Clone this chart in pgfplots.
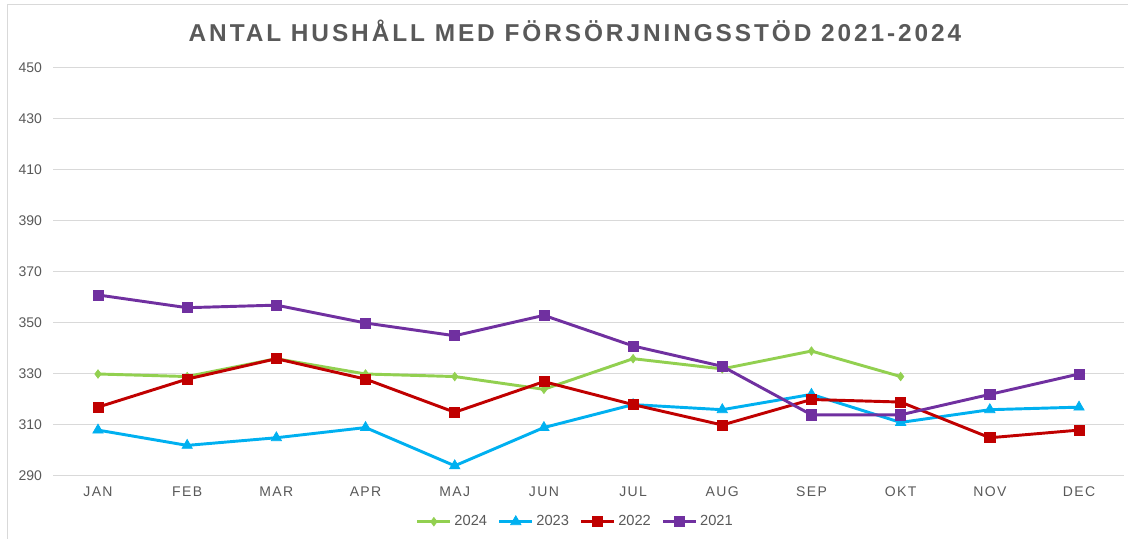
\documentclass[border=0pt]{standalone}
\usepackage{pgfplots}
\pgfplotsset{compat=1.18}
\usepackage{fontspec}
\setmainfont{Liberation Sans}
\newfontfamily\titlefont[LetterSpace=12]{Liberation Sans}
\newfontfamily\spacedfont[LetterSpace=10]{Liberation Sans}
\definecolor{c24}{HTML}{92D050}
\definecolor{c23}{HTML}{00B0F0}
\definecolor{c22}{HTML}{C00000}
\definecolor{c21}{HTML}{7030A0}
\definecolor{txt}{HTML}{595959}
\definecolor{gridc}{HTML}{D9D9D9}
\begin{document}
\begin{tikzpicture}[x=0.75pt,y=0.75pt]
\path[use as bounding box] (0,0) rectangle (1128,539);
\draw[gridc, line width=0.75pt] (7,-5) -- (7,534) -- (1135,534);
\node[anchor=base, text=txt, font=\titlefont\bfseries\fontsize{18.3}{21}\selectfont, inner sep=0pt] at (575,497) {ANTAL HUSHÅLL MED FÖRSÖRJNINGSSTÖD 2021-2024};
\begin{axis}[
  at={(40.05pt,47.25pt)}, anchor=south west,
  scale only axis, width=802.65pt, height=306pt,
  xmin=-0.5, xmax=11.5, ymin=290, ymax=450,
  xtick={0,...,11},
  xticklabels={JAN,FEB,MAR,APR,MAJ,JUN,JUL,AUG,SEP,OKT,NOV,DEC},
  ytick={290,310,...,450},
  ymajorgrids=true,
  grid style={gridc, line width=0.75pt},
  axis line style={draw=none},
  major tick length=0pt,
  /pgf/number format/assume math mode=true,
  yticklabel style={font=\fontsize{10.5}{12}\selectfont, text=txt, anchor=east, xshift=-5pt},
  xticklabel style={font=\spacedfont\fontsize{10.5}{12}\selectfont, text=txt, yshift=-4.3pt},
  legend columns=4,
  legend style={draw=none, at={(0.488,-0.112)}, anchor=center, font=\fontsize{11}{12}\selectfont, text=txt,
    /tikz/every even column/.append style={column sep=6pt}},
  legend image code/.code={\draw[mark repeat=2,mark phase=2,#1] plot coordinates {(0pt,0pt) (12.4pt,0pt) (24.75pt,0pt)};},
  every axis plot/.append style={line width=2.2pt},
]
\addplot[c24, mark=diamond*, mark size=3.2pt, mark options={solid, fill=c24, line width=0.5pt}] coordinates {
(0,330) (1,329) (2,336) (3,330) (4,329) (5,324) (6,336) (7,332) (8,339) (9,329)};
\addlegendentry{2024}
\addplot[c23, mark=triangle*, mark size=4.5pt, mark options={solid, fill=c23, line width=0.5pt}] coordinates {
(0,308) (1,302) (2,305) (3,309) (4,294) (5,309) (6,318) (7,316) (8,322) (9,311) (10,316) (11,317)};
\addlegendentry{2023}
\addplot[c22, mark=square*, mark size=3.8pt, mark options={solid, fill=c22, line width=0.5pt}] coordinates {
(0,317) (1,328) (2,336) (3,328) (4,315) (5,327) (6,318) (7,310) (8,320) (9,319) (10,305) (11,308)};
\addlegendentry{2022}
\addplot[c21, mark=square*, mark size=3.8pt, mark options={solid, fill=c21, line width=0.5pt}] coordinates {
(0,361) (1,356) (2,357) (3,350) (4,345) (5,353) (6,341) (7,333) (8,314) (9,314) (10,322) (11,330)};
\addlegendentry{2021}
\end{axis}
\end{tikzpicture}
\end{document}
